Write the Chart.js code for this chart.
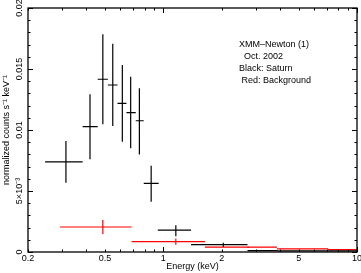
<!DOCTYPE html>
<html lang="en">
<head>
  <meta charset="UTF-8">
  <title>XMM-Newton Saturn spectrum</title>
  <style>
    body { margin: 0; background: #fff; }
    canvas { display: block; }
  </style>
</head>
<body>
<canvas id="spec" width="361" height="273"></canvas>

<script src="https://cdn.jsdelivr.net/npm/chart.js"></script>
<script>
  // Saturn (black): bin centre, bin edges, value and error limits
  const satE   = [0.314, 0.418, 0.487, 0.548, 0.614, 0.678, 0.752, 0.865, 1.16, 2.04, 3.3, 5.2, 8.5];
  const satLo  = [0.245, 0.383, 0.458, 0.517, 0.580, 0.645, 0.720, 0.792, 0.936, 1.39, 2.72, 3.86, 7.1];
  const satHi  = [0.383, 0.458, 0.517, 0.580, 0.645, 0.720, 0.792, 0.946, 1.39, 2.72, 3.86, 7.1, 10];
  const satY   = [0.00738, 0.01027, 0.01416, 0.01369, 0.01219, 0.01142, 0.01076, 0.00563, 0.0018, 0.0006, 0.00012, 0.0001, 0.0001];
  const satYlo = [0.00568, 0.0076, 0.01047, 0.01033, 0.00904, 0.0085, 0.008, 0.00412, 0.0013, 0.00044, 0.00008, 0.00007, 0.00007];
  const satYhi = [0.0091, 0.01293, 0.01784, 0.01707, 0.01533, 0.01437, 0.01342, 0.00707, 0.0022, 0.00076, 0.00016, 0.00013, 0.00013];

  // Background (red)
  const bgE   = [0.487, 1.16, 2.74, 5.5, 9.0];
  const bgLo  = [0.293, 0.686, 1.64, 3.86, 7.1];
  const bgHi  = [0.686, 1.64, 3.86, 7.1, 10];
  const bgY   = [0.00205, 0.00085, 0.0004, 0.00025, 0.0002];
  const bgYlo = [0.00148, 0.0006, 0.00032, 0.0002, 0.00015];
  const bgYhi = [0.00262, 0.0011, 0.00048, 0.0003, 0.00025];

  // axis ticks and labels
  const xTicks = [0.2, 0.5, 1, 2, 5, 10];
  const xTickLabels = ['0.2', '0.5', '1', '2', '5', '10'];
  const yTicks = [0, 0.005, 0.01, 0.015, 0.02];
  const yTickLabels = ['0', '5×10⁻³', '0.01', '0.015', '0.02'];
  const notes = ['XMM–Newton (1)', '  Oct. 2002', 'Black: Saturn', ' Red: Background'];

  const FONT = 'Liberation Sans, Arial, sans-serif';

  // turn bins into crosses: horizontal bin width + vertical error, gaps between
  function crosses(e, lo, hi, y, ylo, yhi) {
    const pts = [];
    e.forEach((c, i) => {
      pts.push({x: lo[i], y: y[i]}, {x: hi[i], y: y[i]}, {x: c, y: null});
      pts.push({x: c, y: ylo[i]}, {x: c, y: yhi[i]}, {x: c, y: null});
    });
    return pts;
  }

  // inward ticks on all four sides, frame, rotated y labels, notes
  const framePlugin = {
    id: 'frame',
    afterDraw(chart) {
      const ctx = chart.ctx;
      const a = chart.chartArea;
      const xs = chart.scales.x, ys = chart.scales.y;
      ctx.save();
      ctx.strokeStyle = '#000';
      ctx.lineWidth = 1.3;
      ctx.strokeRect(a.left, a.top, a.right - a.left, a.bottom - a.top);

      ctx.lineWidth = 1;
      ctx.beginPath();
      for (let v = 0; v <= 0.02001; v += 0.001) {
        const py = Math.round(ys.getPixelForValue(v)) + 0.5;
        const len = (Math.round(v * 1000) % 5 === 0) ? 5 : 2.5;
        ctx.moveTo(a.left, py); ctx.lineTo(a.left + len, py);
        ctx.moveTo(a.right, py); ctx.lineTo(a.right - len, py);
      }
      const decades = [0.1, 1];
      decades.forEach(d => {
        for (let k = 1; k <= 10; k++) {
          const v = k * d;
          if (v < 0.2 - 1e-9 || v > 10 + 1e-9) continue;
          const px = Math.round(xs.getPixelForValue(v)) + 0.5;
          const len = (k === 10 || (k === 1 && d === 1)) ? 5 : 2.5;
          ctx.moveTo(px, a.bottom); ctx.lineTo(px, a.bottom - len);
          ctx.moveTo(px, a.top); ctx.lineTo(px, a.top + len);
        }
      });
      ctx.stroke();

      ctx.fillStyle = '#000';
      ctx.font = '9px ' + FONT;
      ctx.textAlign = 'center';
      ctx.textBaseline = 'middle';
      yTicks.forEach((v, i) => {
        ctx.save();
        ctx.translate(a.left - 8, ys.getPixelForValue(v));
        ctx.rotate(-Math.PI / 2);
        ctx.fillText(yTickLabels[i], 0, 0);
        ctx.restore();
      });

      ctx.textAlign = 'left';
      notes.forEach((t, i) => {
        ctx.fillText(t, a.left + 211, a.top + 36.5 + i * 12);
      });
      ctx.restore();
    }
  };

  new Chart(document.getElementById('spec'), {
    type: 'line',
    data: {
      datasets: [
        {
          label: 'Saturn',
          data: crosses(satE, satLo, satHi, satY, satYlo, satYhi),
          borderColor: '#000',
          borderWidth: 1.2,
          pointRadius: 0,
          spanGaps: false
        },
        {
          label: 'Background',
          data: crosses(bgE, bgLo, bgHi, bgY, bgYlo, bgYhi),
          borderColor: '#ff0000',
          borderWidth: 1.2,
          pointRadius: 0,
          spanGaps: false
        }
      ]
    },
    options: {
      responsive: false,
      animation: false,
      devicePixelRatio: 1,
      layout: { padding: { top: 8, right: 4, left: 0, bottom: 0 } },
      plugins: { legend: { display: false }, tooltip: { enabled: false } },
      scales: {
        x: {
          type: 'logarithmic',
          min: 0.2,
          max: 10,
          grid: { display: false, drawTicks: false },
          border: { display: false },
          ticks: {
            color: '#000',
            font: { family: FONT, size: 9 },
            padding: 1,
            autoSkip: false,
            maxRotation: 0,
            callback: (v) => xTickLabels[xTicks.indexOf(v)]
          },
          afterBuildTicks: (s) => { s.ticks = xTicks.map(v => ({ value: v })); },
          afterFit: (s) => { s.height = 21; s.paddingLeft = 0; s.paddingRight = 0; },
          title: {
            display: true,
            text: 'Energy (keV)',
            color: '#000',
            font: { family: FONT, size: 9 },
            padding: { top: 0, bottom: 1 }
          }
        },
        y: {
          min: 0,
          max: 0.02,
          grid: { display: false, drawTicks: false },
          border: { display: false },
          ticks: { display: false, stepSize: 0.005 },
          afterFit: (s) => { s.width = 28; s.paddingTop = 0; s.paddingBottom = 0; },
          title: {
            display: true,
            text: 'normalized counts s⁻¹ keV⁻¹',
            color: '#000',
            font: { family: FONT, size: 9 },
            padding: { top: 1, bottom: 0 }
          }
        }
      }
    },
    plugins: [framePlugin]
  });
</script>
</body>
</html>
